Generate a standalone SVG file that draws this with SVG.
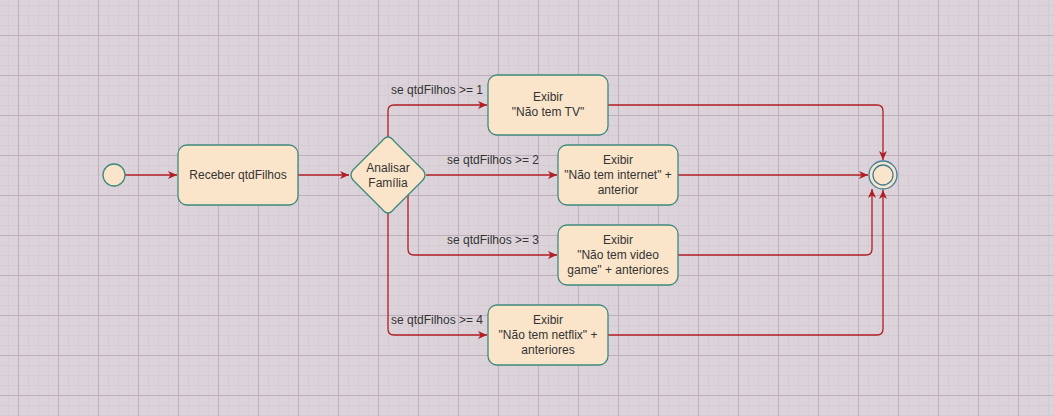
<svg xmlns="http://www.w3.org/2000/svg" width="1054" height="416" viewBox="0 0 1054 416">
<defs>
<pattern id="minor" width="10" height="10" patternUnits="userSpaceOnUse" x="8" y="5">
<path d="M0 0.5H10M0.5 0V10" fill="none" stroke="#d5cbd3" stroke-width="1"/>
</pattern>
<pattern id="major" width="40" height="40" patternUnits="userSpaceOnUse" x="18" y="35">
<path d="M0 0.5H40M0.5 0V40" fill="none" stroke="#bdb0bc" stroke-width="1"/>
</pattern>
<marker id="arr" markerWidth="10" markerHeight="10" refX="9" refY="5" orient="auto" markerUnits="userSpaceOnUse">
<path d="M0,1 L9,5 L0,9 L2.5,5 Z" fill="#b01e24"/>
</marker>
</defs>
<style>
.node{fill:#fbe5ca;stroke:#3d8a7c;stroke-width:1.3}
.t{font-family:"Liberation Sans",Arial,sans-serif;font-size:12px;fill:#333333;text-anchor:middle}
.lbl{font-family:"Liberation Sans",Arial,sans-serif;font-size:12px;fill:#333333;text-anchor:middle}
.edge{fill:none;stroke:#b01e24;stroke-width:1.3;marker-end:url(#arr)}
</style>
<rect width="1054" height="416" fill="#dcd3da"/>
<rect width="1054" height="416" fill="url(#minor)"/>
<rect width="1054" height="416" fill="url(#major)"/>

<g id="connectors">
<path class="edge" d="M125 175H177"/>
<path class="edge" d="M298 175H349"/>
<path class="edge" d="M388 137V111Q388 105 394 105H487"/>
<path class="edge" d="M426 175H557"/>
<path class="edge" d="M408 195V249Q408 255 414 255H557"/>
<path class="edge" d="M388 213V329Q388 335 394 335H487"/>
<path class="edge" d="M608 105H877Q883 105 883 111V160"/>
<path class="edge" d="M678 175H868"/>
<path class="edge" d="M678 255H866Q872 255 872 249V189"/>
<path class="edge" d="M608 335H877Q883 335 883 329V190"/>
<text class="lbl" x="437" y="94">se qtdFilhos &gt;= 1</text>
<text class="lbl" x="493" y="164">se qtdFilhos &gt;= 2</text>
<text class="lbl" x="493" y="244">se qtdFilhos &gt;= 3</text>
<text class="lbl" x="437" y="324">se qtdFilhos &gt;= 4</text>
</g>

<g id="start">
<circle class="node" cx="114" cy="175" r="11"/>
</g>

<g id="receber">
<rect class="node" x="178" y="145" width="120" height="60" rx="9"/>
<text class="t" x="238" y="179">Receber qtdFilhos</text>
</g>

<g id="analisar">
<path class="node" d="M388 137Q391 137 394 141L423 170Q427 175 423 180L394 209Q391 213 388 213Q385 213 382 209L353 180Q349 175 353 170L382 141Q385 137 388 137Z"/>
<text class="t" x="388" y="172">Analisar</text>
<text class="t" x="388" y="187">Família</text>
</g>

<g id="exibir1">
<rect class="node" x="488" y="75" width="120" height="60" rx="9"/>
<text class="t" x="548" y="101">Exibir</text>
<text class="t" x="548" y="116">"Não tem TV"</text>
</g>

<g id="exibir2">
<rect class="node" x="558" y="145" width="120" height="60" rx="9"/>
<text class="t" x="618" y="164">Exibir</text>
<text class="t" x="618" y="179">"Não tem internet" +</text>
<text class="t" x="618" y="194">anterior</text>
</g>

<g id="exibir3">
<rect class="node" x="558" y="225" width="120" height="60" rx="9"/>
<text class="t" x="618" y="244">Exibir</text>
<text class="t" x="618" y="259">"Não tem video</text>
<text class="t" x="618" y="274">game" + anteriores</text>
</g>

<g id="exibir4">
<rect class="node" x="488" y="305" width="120" height="60" rx="9"/>
<text class="t" x="548" y="324">Exibir</text>
<text class="t" x="548" y="339">"Não tem netflix" +</text>
<text class="t" x="548" y="354">anteriores</text>
</g>

<g id="end">
<circle cx="883" cy="175" r="14" fill="#fbe5ca" stroke="#3d7f9a" stroke-width="1.3"/>
<circle cx="883" cy="175" r="10" fill="#fbe5ca" stroke="#3d7f9a" stroke-width="1.3"/>
</g>
</svg>
